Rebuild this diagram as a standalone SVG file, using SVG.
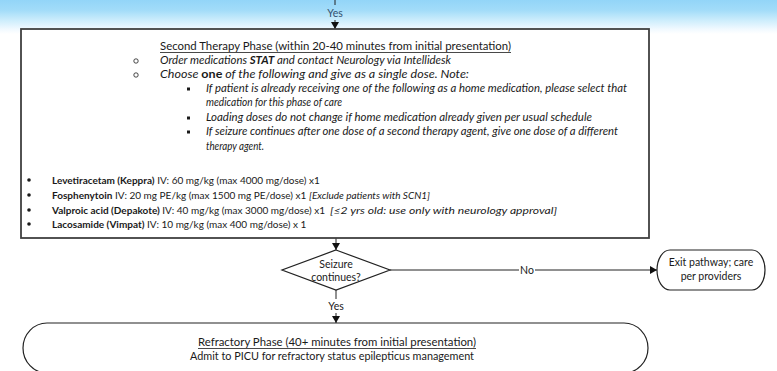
<svg xmlns="http://www.w3.org/2000/svg" width="777" height="371" viewBox="0 0 777 371">
<defs>
<linearGradient id="sky" x1="0" y1="0" x2="0" y2="1">
<stop offset="0" stop-color="#93d5f8"/>
<stop offset="0.3" stop-color="#a2dcf9"/>
<stop offset="0.6" stop-color="#cdedfc"/>
<stop offset="0.85" stop-color="#f0f9ff"/>
<stop offset="1" stop-color="#ffffff"/>
</linearGradient>
<marker id="arr" markerWidth="8" markerHeight="8" refX="7" refY="4" orient="auto" markerUnits="userSpaceOnUse">
<path d="M0,0 L7,4 L0,8 Z" fill="#111"/>
</marker>
<style>
text{font-family:"Lato","Liberation Sans",sans-serif;font-size:10.5px;fill:#1a1a1a}
.it{font-style:italic}
.b{font-weight:bold}
.c{text-anchor:middle}
.med{font-size:10px}
.shape{fill:#fff;stroke:#222;stroke-width:1.2}
.box{fill:#fff;stroke:#404040;stroke-width:1.8}
.conn{stroke:#222;stroke-width:1;fill:none}
.ul{stroke:#1a1a1a;stroke-width:0.8}
</style>
</defs>
<rect x="0" y="0" width="777" height="371" fill="#fff"/>
<rect x="0" y="0" width="777" height="34" fill="url(#sky)"/>

<g id="connectors">
<line class="conn" x1="335" y1="0" x2="335" y2="5"/>
<text class="c" x="335" y="17" style="fill:#34506e">Yes</text>
<line class="conn" x1="335" y1="20" x2="335" y2="29" marker-end="url(#arr)"/>
<line class="conn" x1="336" y1="238" x2="336" y2="250" marker-end="url(#arr)"/>
<line class="conn" x1="390" y1="270" x2="657" y2="270" marker-end="url(#arr)"/>
<rect x="519" y="263" width="16" height="13" fill="#fff"/>
<text class="c" x="527" y="273.5">No</text>
<line class="conn" x1="336" y1="290" x2="336" y2="299"/>
<text class="c" x="336" y="310">Yes</text>
<line class="conn" x1="336" y1="313" x2="336" y2="323" marker-end="url(#arr)"/>
</g>

<g id="second-therapy">
<rect class="box" x="21" y="29" width="628" height="209"/>
<text x="160" y="50" textLength="351" lengthAdjust="spacingAndGlyphs">Second Therapy Phase (within 20-40 minutes from initial presentation)</text>
<line class="ul" x1="160" y1="52.5" x2="511" y2="52.5"/>
<circle cx="136" cy="61" r="2.2" fill="none" stroke="#1a1a1a" stroke-width="0.8"/>
<text class="it" x="160" y="64" textLength="291" lengthAdjust="spacingAndGlyphs">Order medications <tspan class="b">STAT</tspan> and contact Neurology via Intellidesk</text>
<circle cx="136" cy="75" r="2.2" fill="none" stroke="#1a1a1a" stroke-width="0.8"/>
<text class="it" x="160" y="78" textLength="309" lengthAdjust="spacingAndGlyphs">Choose <tspan class="b" style="font-style:normal">one</tspan> of the following and give as a single dose. Note:</text>
<rect x="187" y="87.5" width="3" height="3" fill="#1a1a1a"/>
<text class="it" x="206" y="92" textLength="421" lengthAdjust="spacingAndGlyphs">If patient is already receiving one of the following as a home medication, please select that</text>
<text class="it" x="206" y="106" textLength="136" lengthAdjust="spacingAndGlyphs">medication for this phase of care</text>
<rect x="187" y="116.5" width="3" height="3" fill="#1a1a1a"/>
<text class="it" x="206" y="121" textLength="386" lengthAdjust="spacingAndGlyphs">Loading doses do not change if home medication already given per usual schedule</text>
<rect x="187" y="130.5" width="3" height="3" fill="#1a1a1a"/>
<text class="it" x="206" y="135" textLength="412" lengthAdjust="spacingAndGlyphs">If seizure continues after one dose of a second therapy agent, give one dose of a different</text>
<text class="it" x="206" y="150" textLength="58" lengthAdjust="spacingAndGlyphs">therapy agent.</text>

<circle cx="29" cy="180" r="1.8" fill="#1a1a1a"/>
<text class="med" x="52" y="183.5"><tspan class="b">Levetiracetam (Keppra)</tspan> IV: 60 mg/kg (max 4000 mg/dose) x1</text>

<circle cx="29" cy="195" r="1.8" fill="#1a1a1a"/>
<text class="med" x="52" y="198.5"><tspan class="b">Fosphenytoin</tspan> IV: 20 mg PE/kg (max 1500 mg PE/dose) x1</text>
<text class="med it" x="309" y="198.5">[Exclude patients with SCN1]</text>

<circle cx="29" cy="210" r="1.8" fill="#1a1a1a"/>
<text class="med" x="52" y="213.5"><tspan class="b">Valproic acid (Depakote)</tspan> IV: 40 mg/kg (max 3000 mg/dose) x1</text>
<text class="med it" x="330" y="213.5" textLength="227" lengthAdjust="spacingAndGlyphs">[≤2 yrs old: use only with neurology approval]</text>

<circle cx="29" cy="224" r="1.8" fill="#1a1a1a"/>
<text class="med" x="52" y="227.5"><tspan class="b">Lacosamide (Vimpat)</tspan> IV: 10 mg/kg (max 400 mg/dose) x 1</text>
</g>

<g id="seizure-continues">
<polygon class="shape" points="336,250 390,270 336,290 282,270"/>
<text class="c" x="336" y="268">Seizure</text>
<text class="c" x="336" y="281">continues?</text>
</g>

<g id="exit-pathway">
<rect class="shape" x="657" y="250" width="108" height="40" rx="13" ry="20"/>
<text class="c" x="711" y="266">Exit pathway; care</text>
<text class="c" x="711" y="280">per providers</text>
</g>

<g id="refractory">
<rect class="shape" x="23" y="323" width="625" height="50" rx="24" ry="25"/>
<text class="c" x="337" y="346" textLength="278" lengthAdjust="spacingAndGlyphs">Refractory Phase (40+ minutes from initial presentation)</text>
<line class="ul" x1="198" y1="348.5" x2="476" y2="348.5"/>
<text class="c" x="332" y="359.5" textLength="284" lengthAdjust="spacingAndGlyphs">Admit to PICU for refractory status epilepticus management</text>
</g>
</svg>
